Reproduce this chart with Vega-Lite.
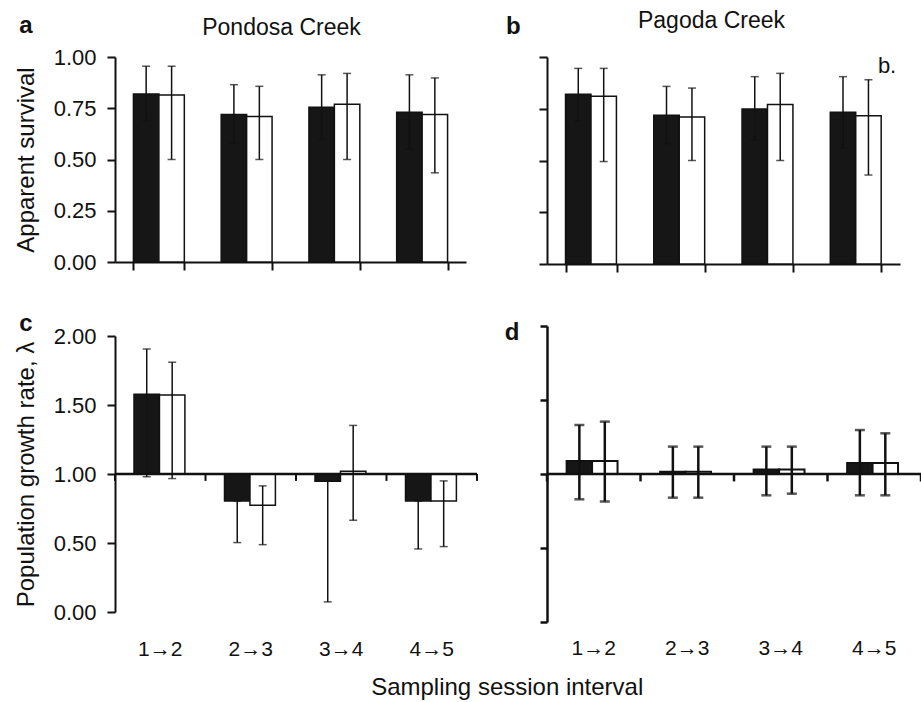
{
  "$schema": "https://vega.github.io/schema/vega-lite/v6.json",
  "padding": {"left": 14, "top": 10, "right": 2, "bottom": 0},
  "background": "white",
  "datasets": {
    "a": [
      {"interval": "1→2", "group": "filled", "value": 0.82, "lo": 0.69, "hi": 0.955},
      {"interval": "1→2", "group": "open", "value": 0.815, "lo": 0.5, "hi": 0.955},
      {"interval": "2→3", "group": "filled", "value": 0.72, "lo": 0.58, "hi": 0.865},
      {"interval": "2→3", "group": "open", "value": 0.71, "lo": 0.5, "hi": 0.857},
      {"interval": "3→4", "group": "filled", "value": 0.755, "lo": 0.6, "hi": 0.913},
      {"interval": "3→4", "group": "open", "value": 0.77, "lo": 0.5, "hi": 0.92},
      {"interval": "4→5", "group": "filled", "value": 0.73, "lo": 0.55, "hi": 0.913},
      {"interval": "4→5", "group": "open", "value": 0.72, "lo": 0.435, "hi": 0.898}
    ],
    "b": [
      {"interval": "1→2", "group": "filled", "value": 0.82, "lo": 0.69, "hi": 0.945},
      {"interval": "1→2", "group": "open", "value": 0.81, "lo": 0.495, "hi": 0.945},
      {"interval": "2→3", "group": "filled", "value": 0.718, "lo": 0.58, "hi": 0.858},
      {"interval": "2→3", "group": "open", "value": 0.71, "lo": 0.5, "hi": 0.85},
      {"interval": "3→4", "group": "filled", "value": 0.749, "lo": 0.6, "hi": 0.905},
      {"interval": "3→4", "group": "open", "value": 0.771, "lo": 0.5, "hi": 0.921},
      {"interval": "4→5", "group": "filled", "value": 0.733, "lo": 0.56, "hi": 0.905},
      {"interval": "4→5", "group": "open", "value": 0.716, "lo": 0.43, "hi": 0.89}
    ],
    "c": [
      {"interval": "1→2", "group": "filled", "value": 1.577, "lo": 0.98, "hi": 1.906},
      {"interval": "1→2", "group": "open", "value": 1.572, "lo": 0.967, "hi": 1.81},
      {"interval": "2→3", "group": "filled", "value": 0.805, "lo": 0.503, "hi": 0.805},
      {"interval": "2→3", "group": "open", "value": 0.774, "lo": 0.488, "hi": 0.914},
      {"interval": "3→4", "group": "filled", "value": 0.948, "lo": 0.073, "hi": 0.948},
      {"interval": "3→4", "group": "open", "value": 1.02, "lo": 0.665, "hi": 1.352},
      {"interval": "4→5", "group": "filled", "value": 0.805, "lo": 0.457, "hi": 0.805},
      {"interval": "4→5", "group": "open", "value": 0.805, "lo": 0.474, "hi": 0.95}
    ],
    "d": [
      {"interval": "1→2", "group": "filled", "value": 1.088, "lo": 0.829, "hi": 1.331},
      {"interval": "1→2", "group": "open", "value": 1.088, "lo": 0.814, "hi": 1.354},
      {"interval": "2→3", "group": "filled", "value": 1.015, "lo": 0.84, "hi": 1.185},
      {"interval": "2→3", "group": "open", "value": 1.015, "lo": 0.84, "hi": 1.185},
      {"interval": "3→4", "group": "filled", "value": 1.03, "lo": 0.856, "hi": 1.185},
      {"interval": "3→4", "group": "open", "value": 1.03, "lo": 0.867, "hi": 1.185},
      {"interval": "4→5", "group": "filled", "value": 1.074, "lo": 0.856, "hi": 1.297},
      {"interval": "4→5", "group": "open", "value": 1.074, "lo": 0.856, "hi": 1.275}
    ]
  },
  "title": {"text": "Sampling session interval", "orient": "bottom", "anchor": "middle", "fontSize": 24, "offset": 17, "dx": 39},
  "spacing": 25,
  "hconcat": [
    {
      "spacing": 39,
      "vconcat": [
        {
          "title": {"text": "a", "anchor": "start", "frame": "bounds", "fontWeight": "bold", "fontSize": 24, "offset": -21, "dx": 5},
          "vconcat": [
            {
              "title": {"text": "Pondosa Creek", "anchor": "middle", "offset": 6, "fontSize": 23, "dx": -9},
              "width": 351, "height": 205,
              "data": {"name": "a"},
              "layer": [
                {
                  "mark": {"type": "bar", "stroke": "#111", "strokeWidth": 1.5},
                  "encoding": {
                    "x": {"field": "interval", "type": "nominal", "sort": null, "scale": {"paddingInner": 0.42, "paddingOuter": 0.21}, "axis": {"title": null, "labels": false, "tickBand": "extent"}},
                    "xOffset": {"field": "group", "type": "nominal", "sort": ["filled", "open"]},
                    "y": {"field": "value", "type": "quantitative", "scale": {"domain": [0, 1], "nice": false}, "axis": {"values": [0, 0.25, 0.5, 0.75, 1], "format": ".2f", "title": "Apparent survival"}},
                    "fill": {"field": "group", "type": "nominal", "scale": {"domain": ["filled", "open"], "range": ["#161616", "#ffffff"]}, "legend": null}
                  }
                },
                {
                  "mark": {"type": "rule", "color": "#111", "strokeWidth": 1.5},
                  "encoding": {
                    "x": {"field": "interval", "type": "nominal", "sort": null},
                    "xOffset": {"field": "group", "type": "nominal", "sort": ["filled", "open"]},
                    "y": {"field": "lo", "type": "quantitative"},
                    "y2": {"field": "hi"}
                  }
                },
                {
                  "mark": {"type": "tick", "color": "#111", "thickness": 1.5, "size": 8},
                  "encoding": {
                    "x": {"field": "interval", "type": "nominal", "sort": null},
                    "xOffset": {"field": "group", "type": "nominal", "sort": ["filled", "open"]},
                    "y": {"field": "hi", "type": "quantitative"}
                  }
                },
                {
                  "mark": {"type": "tick", "color": "#111", "thickness": 1.5, "size": 8},
                  "encoding": {
                    "x": {"field": "interval", "type": "nominal", "sort": null},
                    "xOffset": {"field": "group", "type": "nominal", "sort": ["filled", "open"]},
                    "y": {"field": "lo", "type": "quantitative"}
                  }
                }
              ]
            }
          ]
        },
        {
          "title": {"text": "c", "anchor": "start", "frame": "bounds", "fontWeight": "bold", "fontSize": 24, "offset": -11, "dx": 5},
          "width": 362, "height": 276,
          "data": {"name": "c"},
          "layer": [
            {
              "mark": {"type": "bar", "stroke": "#111", "strokeWidth": 1.5},
              "encoding": {
                "x": {"field": "interval", "type": "nominal", "sort": null, "scale": {"paddingInner": 0.42, "paddingOuter": 0.21}, "axis": {"title": null, "domain": false, "ticks": false, "tickSize": 0, "labelPadding": 26, "labelAngle": 0, "labelFontSize": 21}},
                "xOffset": {"field": "group", "type": "nominal", "sort": ["filled", "open"]},
                "y": {"field": "value", "type": "quantitative", "scale": {"domain": [0, 2], "nice": false}, "axis": {"values": [0, 0.5, 1, 1.5, 2], "format": ".2f", "title": "Population growth rate, λ"}},
                "y2": {"datum": 1},
                "fill": {"field": "group", "type": "nominal", "scale": {"domain": ["filled", "open"], "range": ["#161616", "#ffffff"]}, "legend": null}
              }
            },
            {
              "transform": [{"filter": "datum.group == 'filled' && datum.interval == '1→2'"}],
              "mark": {"type": "rule", "color": "#111", "strokeWidth": 2.5},
              "encoding": {"y": {"datum": 1}}
            },
            {
              "transform": [{"filter": "datum.group == 'filled'"}],
              "mark": {"type": "rule", "color": "#111", "strokeWidth": 2},
              "encoding": {
                "x": {"field": "interval", "type": "nominal", "sort": null, "bandPosition": -0.3621},
                "y": {"datum": 1},
                "y2": {"datum": 0.95}
              }
            },
            {
              "transform": [{"filter": "datum.group == 'filled' && datum.interval == '4→5'"}],
              "mark": {"type": "rule", "color": "#111", "strokeWidth": 2},
              "encoding": {
                "x": {"field": "interval", "type": "nominal", "sort": null, "bandPosition": 1.3621},
                "y": {"datum": 1},
                "y2": {"datum": 0.95}
              }
            },
            {
              "mark": {"type": "rule", "color": "#111", "strokeWidth": 1.5},
              "encoding": {
                "x": {"field": "interval", "type": "nominal", "sort": null},
                "xOffset": {"field": "group", "type": "nominal", "sort": ["filled", "open"]},
                "y": {"field": "lo", "type": "quantitative"},
                "y2": {"field": "hi"}
              }
            },
            {
              "mark": {"type": "tick", "color": "#111", "thickness": 1.5, "size": 8},
              "encoding": {
                "x": {"field": "interval", "type": "nominal", "sort": null},
                "xOffset": {"field": "group", "type": "nominal", "sort": ["filled", "open"]},
                "y": {"field": "hi", "type": "quantitative"}
              }
            },
            {
              "mark": {"type": "tick", "color": "#111", "thickness": 1.5, "size": 8},
              "encoding": {
                "x": {"field": "interval", "type": "nominal", "sort": null},
                "xOffset": {"field": "group", "type": "nominal", "sort": ["filled", "open"]},
                "y": {"field": "lo", "type": "quantitative"}
              }
            }
          ]
        }
      ]
    },
    {
      "spacing": 47,
      "vconcat": [
        {
          "title": {"text": "b", "anchor": "start", "frame": "bounds", "fontWeight": "bold", "fontSize": 24, "offset": -29, "dx": -32},
          "vconcat": [
            {
              "title": {"text": "Pagoda Creek", "anchor": "middle", "offset": 22, "fontSize": 23, "dx": -12},
              "width": 353, "height": 207,
              "data": {"name": "b"},
              "layer": [
                {
                  "mark": {"type": "bar", "stroke": "#111", "strokeWidth": 1.5},
                  "encoding": {
                    "x": {"field": "interval", "type": "nominal", "sort": null, "scale": {"paddingInner": 0.42, "paddingOuter": 0.21}, "axis": {"title": null, "labels": false, "tickBand": "extent"}},
                    "xOffset": {"field": "group", "type": "nominal", "sort": ["filled", "open"]},
                    "y": {"field": "value", "type": "quantitative", "scale": {"domain": [0, 1], "nice": false}, "axis": {"values": [0, 0.25, 0.5, 0.75, 1], "labels": false, "title": null}},
                    "fill": {"field": "group", "type": "nominal", "scale": {"domain": ["filled", "open"], "range": ["#161616", "#ffffff"]}, "legend": null}
                  }
                },
                {
                  "mark": {"type": "rule", "color": "#111", "strokeWidth": 1.5},
                  "encoding": {
                    "x": {"field": "interval", "type": "nominal", "sort": null},
                    "xOffset": {"field": "group", "type": "nominal", "sort": ["filled", "open"]},
                    "y": {"field": "lo", "type": "quantitative"},
                    "y2": {"field": "hi"}
                  }
                },
                {
                  "mark": {"type": "tick", "color": "#111", "thickness": 1.5, "size": 8},
                  "encoding": {
                    "x": {"field": "interval", "type": "nominal", "sort": null},
                    "xOffset": {"field": "group", "type": "nominal", "sort": ["filled", "open"]},
                    "y": {"field": "hi", "type": "quantitative"}
                  }
                },
                {
                  "mark": {"type": "tick", "color": "#111", "thickness": 1.5, "size": 8},
                  "encoding": {
                    "x": {"field": "interval", "type": "nominal", "sort": null},
                    "xOffset": {"field": "group", "type": "nominal", "sort": ["filled", "open"]},
                    "y": {"field": "lo", "type": "quantitative"}
                  }
                },
                {
                  "transform": [{"filter": "datum.group == 'open' && datum.interval == '4→5'"}],
                  "mark": {"type": "text", "text": "b.", "font": "Liberation Sans", "fontSize": 22, "fontWeight": "normal", "fill": "#111", "align": "left", "baseline": "middle", "dx": 22},
                  "encoding": {
                    "x": {"datum": "4→5"},
                    "y": {"datum": 0.955}
                  }
                }
              ]
            }
          ]
        },
        {
          "title": {"text": "d", "anchor": "start", "frame": "bounds", "fontWeight": "bold", "fontSize": 24, "offset": -20, "dx": -34},
          "width": 374, "height": 296,
          "data": {"name": "d"},
          "layer": [
            {
              "mark": {"type": "bar", "stroke": "#111", "strokeWidth": 2},
              "encoding": {
                "x": {"field": "interval", "type": "nominal", "sort": null, "scale": {"paddingInner": 0.42, "paddingOuter": 0.21}, "axis": {"title": null, "domain": false, "ticks": false, "tickSize": 0, "labelPadding": 15, "labelAngle": 0, "labelFontSize": 21}},
                "xOffset": {"field": "group", "type": "nominal", "sort": ["filled", "open"]},
                "y": {"field": "value", "type": "quantitative", "scale": {"domain": [0, 2], "nice": false}, "axis": {"values": [0, 0.5, 1, 1.5, 2], "labels": false, "title": null, "tickSize": 7, "domainWidth": 2.5, "tickWidth": 2.5}},
                "y2": {"datum": 1},
                "fill": {"field": "group", "type": "nominal", "scale": {"domain": ["filled", "open"], "range": ["#161616", "#ffffff"]}, "legend": null}
              }
            },
            {
              "transform": [{"filter": "datum.group == 'filled' && datum.interval == '1→2'"}],
              "mark": {"type": "rule", "color": "#111", "strokeWidth": 2.5},
              "encoding": {"y": {"datum": 1}}
            },
            {
              "transform": [{"filter": "datum.group == 'filled'"}],
              "mark": {"type": "rule", "color": "#111", "strokeWidth": 2.5},
              "encoding": {
                "x": {"field": "interval", "type": "nominal", "sort": null, "bandPosition": -0.3621},
                "y": {"datum": 1},
                "y2": {"datum": 0.95}
              }
            },
            {
              "transform": [{"filter": "datum.group == 'filled' && datum.interval == '4→5'"}],
              "mark": {"type": "rule", "color": "#111", "strokeWidth": 2.5},
              "encoding": {
                "x": {"field": "interval", "type": "nominal", "sort": null, "bandPosition": 1.3621},
                "y": {"datum": 1},
                "y2": {"datum": 0.95}
              }
            },
            {
              "mark": {"type": "rule", "color": "#111", "strokeWidth": 2.5},
              "encoding": {
                "x": {"field": "interval", "type": "nominal", "sort": null},
                "xOffset": {"field": "group", "type": "nominal", "sort": ["filled", "open"]},
                "y": {"field": "lo", "type": "quantitative"},
                "y2": {"field": "hi"}
              }
            },
            {
              "mark": {"type": "tick", "color": "#111", "thickness": 2.5, "size": 10},
              "encoding": {
                "x": {"field": "interval", "type": "nominal", "sort": null},
                "xOffset": {"field": "group", "type": "nominal", "sort": ["filled", "open"]},
                "y": {"field": "hi", "type": "quantitative"}
              }
            },
            {
              "mark": {"type": "tick", "color": "#111", "thickness": 2.5, "size": 10},
              "encoding": {
                "x": {"field": "interval", "type": "nominal", "sort": null},
                "xOffset": {"field": "group", "type": "nominal", "sort": ["filled", "open"]},
                "y": {"field": "lo", "type": "quantitative"}
              }
            }
          ]
        }
      ]
    }
  ],
  "config": {
    "font": "Liberation Sans",
    "view": {"stroke": null},
    "axis": {"labelFont": "Liberation Sans", "labelFontSize": 22, "labelColor": "#111", "titleFont": "Liberation Sans", "titleFontSize": 24, "titleFontWeight": "normal", "titleColor": "#111", "domainColor": "#111", "domainWidth": 2, "tickColor": "#111", "tickWidth": 2, "tickSize": 8, "grid": false, "labelPadding": 11, "titlePadding": 15},
    "title": {"font": "Liberation Sans", "fontSize": 22, "fontWeight": "normal", "color": "#111"}
  }
}
